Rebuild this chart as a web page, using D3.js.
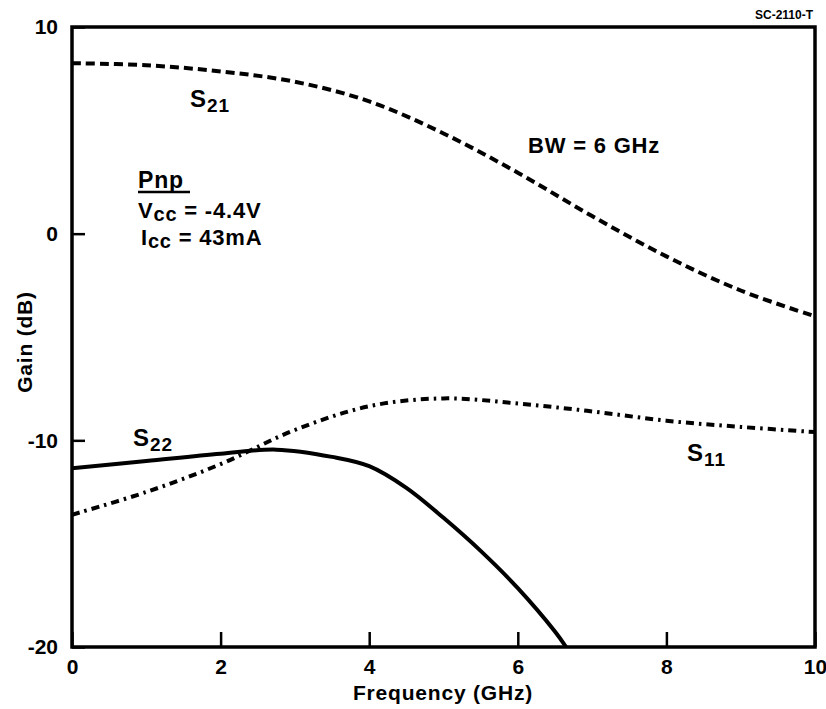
<!DOCTYPE html>
<html>
<head>
<meta charset="utf-8">
<script src="https://cdn.jsdelivr.net/npm/d3@7"></script>
<style>
  html, body { margin: 0; padding: 0; background: #fff; }
  svg text { font-family: "Liberation Sans", Arial, Helvetica, sans-serif; font-weight: bold; fill: #000; }
</style>
</head>
<body>
<svg id="chart" width="826" height="709"></svg>
<script>
// Frequency (GHz) / gain (dB) samples for each S-parameter
const s21Freq = [0, 1, 2, 3, 4, 5, 6, 7, 8, 9, 10];
const s21Gain = [8.25, 8.15, 7.85, 7.35, 6.4, 4.85, 2.95, 0.85, -1.1, -2.75, -4.0];

const s22Freq = [0, 1, 2, 2.75, 3.5, 4, 4.5, 5, 5.5, 6, 6.5, 6.65];
const s22Gain = [-11.35, -11.0, -10.65, -10.45, -10.8, -11.25, -12.3, -13.75, -15.35, -17.15, -19.25, -20];

const s11Freq = [0, 1, 2, 3, 4, 5, 6, 7, 8, 9, 10];
const s11Gain = [-13.6, -12.5, -11.15, -9.5, -8.35, -7.97, -8.22, -8.6, -9.05, -9.35, -9.6];

const xTicks = [0, 2, 4, 6, 8, 10];
const yTicks = [-20, -10, 0, 10];

(function draw() {
  const svg = d3.select("#chart");
  const pL = 72, pR = 815, pT = 27, pB = 647;

  const x = d3.scaleLinear().domain([0, 10]).range([pL, pR]);
  const y = d3.scaleLinear().domain([-20, 10]).range([pB, pT]);

  // clip curves to the plot frame
  svg.append("defs").append("clipPath").attr("id", "plot")
    .append("rect").attr("x", pL).attr("y", pT)
    .attr("width", pR - pL).attr("height", pB - pT);

  // axes with inward ticks
  const xAxis = svg.append("g").attr("transform", `translate(0,${pB})`)
    .call(d3.axisBottom(x).tickValues(xTicks).tickSize(-15).tickPadding(12).tickFormat(d3.format("d")));
  const yAxis = svg.append("g").attr("transform", `translate(${pL},0)`)
    .call(d3.axisLeft(y).tickValues(yTicks).tickSize(-13).tickPadding(14).tickFormat(d => d < 0 ? "-" + Math.abs(d) : d));

  [xAxis, yAxis].forEach(g => {
    g.select(".domain").remove();
    g.selectAll(".tick line").attr("stroke", "#000").attr("stroke-width", 2.5);
    g.selectAll(".tick text").style("font-size", "21px").style("font-weight", "bold")
      .style("font-family", '"Liberation Sans", Arial, sans-serif');
  });

  // plot frame
  svg.append("rect").attr("x", pL).attr("y", pT)
    .attr("width", pR - pL).attr("height", pB - pT)
    .attr("fill", "none").attr("stroke", "#000").attr("stroke-width", 3.5);

  const line = d3.line().x(d => x(d[0])).y(d => y(d[1])).curve(d3.curveCatmullRom.alpha(0.5));
  const curves = svg.append("g").attr("clip-path", "url(#plot)");

  curves.append("path").datum(d3.zip(s21Freq, s21Gain))
    .attr("d", line).attr("fill", "none").attr("stroke", "#000")
    .attr("stroke-width", 4).attr("stroke-dasharray", "9,5");

  curves.append("path").datum(d3.zip(s11Freq, s11Gain))
    .attr("d", line).attr("fill", "none").attr("stroke", "#000")
    .attr("stroke-width", 4).attr("stroke-dasharray", "8,5,2.5,5");

  curves.append("path").datum(d3.zip(s22Freq, s22Gain))
    .attr("d", line).attr("fill", "none").attr("stroke", "#000")
    .attr("stroke-width", 4);

  // curve labels
  function sLabel(px, py, sub) {
    const t = svg.append("text").attr("x", px).attr("y", py)
      .style("font-size", "24px").style("letter-spacing", "1px");
    t.append("tspan").text("S");
    t.append("tspan").attr("dy", 5).style("font-size", "19px").text(sub);
  }
  sLabel(190, 107, "21");
  sLabel(133, 446, "22");
  sLabel(687, 461, "11");

  const note = { "font-size": "22px", "letter-spacing": "0.8px" };
  function styled(sel) { Object.entries(note).forEach(([k, v]) => sel.style(k, v)); return sel; }

  styled(svg.append("text").attr("x", 528).attr("y", 153)).text("BW = 6 GHz");

  // bias conditions
  styled(svg.append("text").attr("x", 138).attr("y", 188)).style("font-size", "23px").text("Pnp");
  svg.append("line").attr("x1", 138).attr("x2", 190).attr("y1", 192).attr("y2", 192)
    .attr("stroke", "#000").attr("stroke-width", 2.5);

  const v = styled(svg.append("text").attr("x", 138).attr("y", 218));
  v.append("tspan").text("V");
  v.append("tspan").attr("dy", 3).style("font-size", "20px").text("cc");
  v.append("tspan").attr("dy", -3).text(" = -4.4V");

  const ic = styled(svg.append("text").attr("x", 141).attr("y", 245));
  ic.append("tspan").text("I");
  ic.append("tspan").attr("dy", 3).style("font-size", "20px").text("cc");
  ic.append("tspan").attr("dy", -3).text(" = 43mA");

  // axis titles
  svg.append("text").attr("x", 443).attr("y", 700)
    .attr("text-anchor", "middle").style("font-size", "21px").style("letter-spacing", "0.8px")
    .text("Frequency (GHz)");
  svg.append("text").attr("transform", `translate(32,${(pT + pB) / 2 + 5}) rotate(-90)`)
    .attr("text-anchor", "middle").style("font-size", "21px").style("letter-spacing", "0.8px")
    .text("Gain (dB)");

  // drawing number
  svg.append("text").attr("x", 813).attr("y", 19).attr("text-anchor", "end")
    .style("font-size", "12px").text("SC-2110-T");
})();
</script>
</body>
</html>
